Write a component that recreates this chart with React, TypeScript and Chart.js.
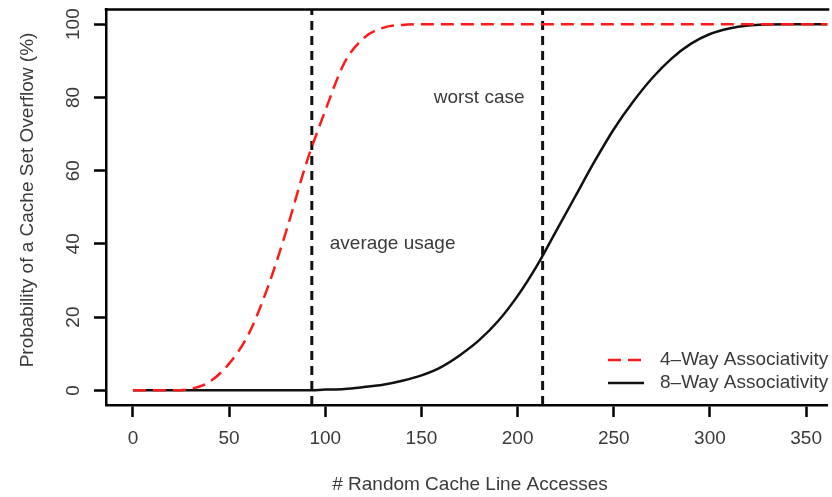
import { useEffect, useRef } from "react";
import { Chart, registerables } from "chart.js";

Chart.register(...registerables);

// ---- data ----
const accesses = [
  0, 10, 20, 30, 40, 50, 60, 70, 80, 90, 100, 110, 120, 130, 140, 150, 160, 170, 180,
  190, 200, 210, 220, 230, 240, 250, 260, 270, 280, 290, 300, 310, 320, 330, 340, 350,
  360, 370,
];
const fourWay = [
  0, 0, 0, 0.4, 2.4, 7.3, 15.2, 28, 44, 61.8, 76.4, 89.5, 96.2, 99, 99.8, 100, 100, 100,
  100, 100, 100, 100, 100, 100, 100, 100, 100, 100, 100, 100, 100, 100, 100, 100, 100,
  100, 100, 100,
];
const eightWay = [
  0, 0, 0, 0, 0, 0, 0, 0, 0, 0, 0.2, 0.4, 0.9, 1.5, 2.6, 4.1, 6.3, 9.6, 13.7, 19, 25.8,
  34, 43.5, 53, 62.5, 71.3, 78.8, 85.3, 90.6, 94.6, 97.3, 98.8, 99.6, 99.9, 100, 100,
  100, 100,
];
const seriesLabels = ["4\u2013Way Associativity", "8\u2013Way Associativity"];
const averageUsage = 93;
const worstCase = 213;
const annotationTexts = ["average usage", "worst case"];
const annotationX = [135, 180];
const annotationY = [40, 80];
const xTitle = "# Random Cache Line Accesses";
const yTitle = "Probability of a Cache Set Overflow (%)";
const xMin = -14;
const xMax = 361;
const yMin = -4;
const yMax = 104;

const TEXT = "#3a3a3a";
const FONT = "Liberation Sans, Arial, Helvetica, sans-serif";
const FS = 19;

const overlayPlugin = {
  id: "rOverlay",
  afterDraw(chart: any) {
    const { ctx, chartArea, scales } = chart;
    const xs = scales.x;
    const ys = scales.y;
    ctx.save();
    // top border of the box
    ctx.strokeStyle = "#000";
    ctx.lineWidth = 2.5;
    ctx.beginPath();
    ctx.moveTo(chartArea.left - 1.25, chartArea.top);
    ctx.lineTo(chartArea.right + 2, chartArea.top);
    ctx.stroke();

    ctx.fillStyle = TEXT;
    ctx.font = `${FS}px ${FONT}`;
    ctx.textAlign = "center";
    ctx.textBaseline = "middle";
    // y tick labels (rotated, R style)
    ys.ticks.forEach((t: any) => {
      const py = ys.getPixelForValue(t.value);
      ctx.save();
      ctx.translate(74, py);
      ctx.rotate(-Math.PI / 2);
      ctx.fillText(String(t.value), 0, 0);
      ctx.restore();
    });
    // y title
    ctx.save();
    ctx.translate(28, 200);
    ctx.rotate(-Math.PI / 2);
    ctx.fillText(yTitle, 0, 0);
    ctx.restore();
    // x title
    ctx.fillText(xTitle, 470, 485);

    // annotations
    annotationTexts.forEach((txt, i) => {
      ctx.fillText(txt, xs.getPixelForValue(annotationX[i]), ys.getPixelForValue(annotationY[i]));
    });

    // legend
    const ds = chart.data.datasets;
    const legendY = [360, 383];
    [0, 1].forEach((i) => {
      const d = ds[i];
      ctx.save();
      ctx.strokeStyle = d.borderColor;
      ctx.lineWidth = d.borderWidth;
      ctx.setLineDash(d.borderDash || []);
      ctx.beginPath();
      ctx.moveTo(608, legendY[i]);
      ctx.lineTo(644, legendY[i]);
      ctx.stroke();
      ctx.restore();
      ctx.textAlign = "left";
      ctx.fillText(seriesLabels[i], 660, legendY[i]);
    });
    ctx.restore();
  },
};

export default function App() {
  const ref = useRef<HTMLCanvasElement>(null);
  useEffect(() => {
    if (!ref.current) return;
    const pts = (ys: number[]) => accesses.map((x, i) => ({ x, y: ys[i] }));
    const chart = new Chart(ref.current, {
      type: "line",
      data: {
        datasets: [
          {
            label: seriesLabels[0],
            data: pts(fourWay),
            borderColor: "#ff1a1a",
            borderWidth: 2.5,
            borderDash: [13, 7],
            pointRadius: 0,
            cubicInterpolationMode: "monotone",
            fill: false,
          },
          {
            label: seriesLabels[1],
            data: pts(eightWay),
            borderColor: "#111",
            borderWidth: 2.5,
            pointRadius: 0,
            cubicInterpolationMode: "monotone",
            fill: false,
          },
          {
            label: "average usage",
            data: [
              { x: averageUsage, y: yMin },
              { x: averageUsage, y: yMax },
            ],
            borderColor: "#111",
            borderWidth: 3,
            borderDash: [9, 6],
            pointRadius: 0,
            fill: false,
          },
          {
            label: "worst case",
            data: [
              { x: worstCase, y: yMin },
              { x: worstCase, y: yMax },
            ],
            borderColor: "#111",
            borderWidth: 3,
            borderDash: [9, 6],
            pointRadius: 0,
            fill: false,
          },
        ],
      },
      options: {
        animation: false,
        responsive: false,
        devicePixelRatio: 1,
        layout: { padding: { top: 9.5, right: 0, left: 0, bottom: 0 } },
        plugins: { legend: { display: false }, tooltip: { enabled: false } },
        scales: {
          x: {
            type: "linear",
            min: xMin,
            max: xMax,
            afterFit: (s: any) => {
              s.height = 92;
            },
            ticks: {
              stepSize: 50,
              includeBounds: false,
              color: TEXT,
              font: { family: FONT, size: FS },
              padding: 10,
              maxRotation: 0,
            },
            grid: {
              drawOnChartArea: false,
              drawTicks: true,
              tickLength: 12,
              tickWidth: 2.5,
              tickColor: "#000",
            },
            border: { display: true, color: "#000", width: 2.5 },
          },
          y: {
            type: "linear",
            min: yMin,
            max: yMax,
            afterFit: (s: any) => {
              s.width = 106;
            },
            ticks: {
              stepSize: 20,
              includeBounds: false,
              display: false,
            },
            grid: {
              drawOnChartArea: false,
              drawTicks: true,
              tickLength: 12,
              tickWidth: 2.5,
              tickColor: "#000",
            },
            border: { display: true, color: "#000", width: 2.5 },
          },
        },
      },
      plugins: [overlayPlugin],
    } as any);
    return () => chart.destroy();
  }, []);
  return (
    <div style={{ position: "fixed", left: 0, top: 0, width: 832, height: 497, background: "#fff" }}>
      <canvas ref={ref} width={832} height={497} style={{ width: 832, height: 497, display: "block" }} />
    </div>
  );
}
